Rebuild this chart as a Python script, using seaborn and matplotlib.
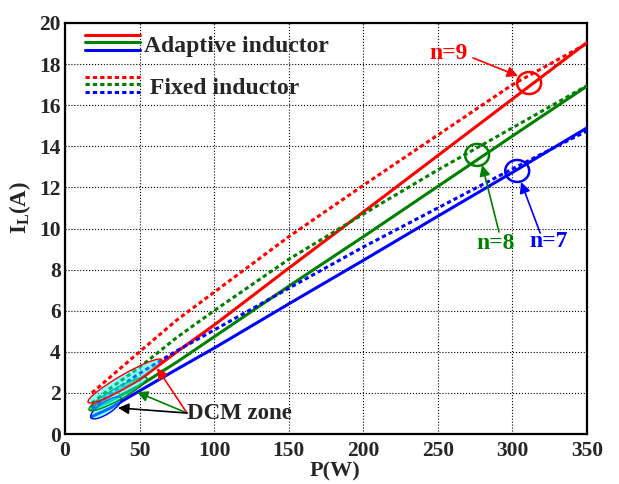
import numpy as np
import pandas as pd
import matplotlib
matplotlib.use("Agg")
import matplotlib.pyplot as plt
import matplotlib.transforms as mtransforms
from matplotlib.patches import Ellipse
from matplotlib.lines import Line2D
from matplotlib.legend_handler import HandlerBase
import seaborn as sns

# ---- data -------------------------------------------------------------
power_w = [18, 30, 50, 75, 100, 150, 200, 250, 300, 350]

adaptive_n9 = [1.35, 1.85, 2.65, 4.00, 5.30, 8.07, 10.80, 13.55, 16.30, 19.05]
adaptive_n8 = [1.20, 1.60, 2.35, 3.50, 4.73, 7.19, 9.60, 12.05, 14.50, 16.93]
adaptive_n7 = [0.85, 1.25, 2.10, 3.15, 4.18, 6.33, 8.45, 10.60, 12.73, 14.90]

fixed_n9 = [2.00, 2.75, 4.00, 5.55, 6.90, 9.60, 12.10, 14.55, 17.00, 19.00]
fixed_n8 = [1.50, 2.20, 3.25, 4.70, 6.00, 8.50, 10.70, 12.85, 14.90, 16.95]
fixed_n7 = [1.25, 1.95, 2.95, 4.05, 5.06, 7.09, 9.10, 11.00, 12.90, 14.75]

turns = ["n=9", "n=8", "n=7"]
colors = {"n=9": "#ff0000", "n=8": "#008000", "n=7": "#0000ff"}
legend_labels = ["Adaptive inductor", " Fixed inductor"]

x_ticks = [0, 50, 100, 150, 200, 250, 300, 350]
y_ticks = [0, 2, 4, 6, 8, 10, 12, 14, 16, 18, 20]

rows = []
for kind, series in [("Adaptive", [adaptive_n9, adaptive_n8, adaptive_n7]),
                     ("Fixed", [fixed_n9, fixed_n8, fixed_n7])]:
    for n, vals in zip(turns, series):
        for p, i in zip(power_w, vals):
            rows.append({"P": p, "I": i, "n": n, "kind": kind})
df = pd.DataFrame(rows)

# ---- style ------------------------------------------------------------
sns.set_theme(style="white")
plt.rcParams["font.family"] = ["Liberation Serif", "DejaVu Serif"]
plt.rcParams["font.weight"] = "bold"
plt.rcParams["mathtext.fontset"] = "custom"
plt.rcParams["mathtext.rm"] = "Liberation Serif:bold"
plt.rcParams["mathtext.it"] = "Liberation Serif:bold"
plt.rcParams["mathtext.bf"] = "Liberation Serif:bold"

DPI = 100
fig = plt.figure(figsize=(6.19, 4.84), dpi=DPI)
ax = fig.add_axes([65 / 619, 1 - 434 / 484, 522 / 619, 411 / 484])

sns.lineplot(data=df, x="P", y="I", hue="n", style="kind",
             palette=colors, dashes={"Adaptive": "", "Fixed": (1.4, 1.0)},
             estimator=None, sort=False, linewidth=2.2, legend=False, ax=ax,
             zorder=3)

ax.set_xlim(0, 350)
ax.set_ylim(0, 20)
ax.set_xticks(x_ticks)
ax.set_yticks(y_ticks)
ax.tick_params(axis="both", labelsize=15.5, direction="in", length=4,
               width=1, color="black")
ax.tick_params(axis="x", pad=5)
ax.tick_params(axis="y", pad=3)
for lab in ax.get_xticklabels() + ax.get_yticklabels():
    lab.set_fontweight("bold")
ax.grid(True, color="black", linestyle=":", linewidth=0.8)
ax.set_axisbelow(True)
for sp in ax.spines.values():
    sp.set_color("black")
    sp.set_linewidth(1.6)

ax.set_xlabel("P(W)", fontsize=16, fontweight="bold")
ax.set_ylabel(r"I$_{\mathrm{L}}$(A)", fontsize=16.5, fontweight="bold")
ax.xaxis.set_label_coords(0.517, -0.066)
ax.yaxis.set_label_coords(-0.062, 0.55)


def pixel_patch(x, y, w, h, angle, **kw):
    """Ellipse sized in output pixels, anchored at a data point."""
    tr = mtransforms.Affine2D() + mtransforms.ScaledTranslation(x, y, ax.transData)
    e = Ellipse((0, 0), w, h, angle=angle, transform=tr, **kw)
    ax.add_patch(e)
    return e


# DCM zone ellipses
for (cx, cy, w, h, ang, n) in [(27.5, 1.27, 36, 12, 33, "n=7"),
                               (35.5, 1.95, 66, 12, 29, "n=8"),
                               (40.2, 2.58, 85, 13, 30, "n=9")]:
    pixel_patch(cx, cy, w, h, ang, facecolor=(0, 1, 1, 0.45),
                edgecolor=colors[n], linewidth=1.0, zorder=4)

# markers on the curves
for (cx, cy, n) in [(311.2, 17.08, "n=9"), (276.3, 13.58, "n=8"),
                    (303.2, 12.80, "n=7")]:
    pixel_patch(cx, cy, 24, 22, 0, facecolor="none", edgecolor=colors[n],
                linewidth=1.8, zorder=5)

arrow_kw = dict(arrowstyle="-|>", mutation_scale=16, lw=1.2,
                shrinkA=0, shrinkB=0)

# DCM zone label and arrows
dcm_x, dcm_y = 81.8, 1.02
ax.text(dcm_x, dcm_y, "DCM zone", fontsize=16.5, fontweight="bold",
        ha="left", va="center", zorder=6)
for (hx, hy, c) in [(61.7, 3.21, "#ff0000"), (48.3, 2.04, "#008000"),
                    (35.5, 1.27, "black")]:
    ax.annotate("", xy=(hx, hy), xytext=(dcm_x, dcm_y),
                arrowprops=dict(color=c, **arrow_kw), zorder=6)

# turn-count labels
ax.text(270.3, 18.54, "n=9", color=colors["n=9"], fontsize=17,
        fontweight="bold", ha="right", va="center")
ax.annotate("", xy=(303.8, 17.42), xytext=(273.6, 18.3),
            arrowprops=dict(color=colors["n=9"], **arrow_kw))
ax.text(288.4, 9.29, "n=8", color=colors["n=8"], fontsize=17,
        fontweight="bold", ha="center", va="center")
ax.annotate("", xy=(279.7, 13.09), xytext=(291.0, 9.83),
            arrowprops=dict(color=colors["n=8"], **arrow_kw))
ax.text(324.0, 9.39, "n=7", color=colors["n=7"], fontsize=17,
        fontweight="bold", ha="center", va="center")
ax.annotate("", xy=(305.8, 12.26), xytext=(318.6, 9.78),
            arrowprops=dict(color=colors["n=7"], **arrow_kw))


# legend with three stacked lines per entry
class LineGroup:
    def __init__(self, cols, dashed):
        self.cols = cols
        self.dashed = dashed


class LineGroupHandler(HandlerBase):
    def create_artists(self, legend, orig_handle, xdescent, ydescent,
                       width, height, fontsize, trans):
        artists = []
        yc = (height - ydescent) / 2.0
        for k, c in enumerate(orig_handle.cols):
            y = yc + (1 - k) * 5.4
            ln = Line2D([-xdescent, -xdescent + width], [y, y], color=c,
                        linewidth=2.2,
                        linestyle=(0, (1.4, 1.0)) if orig_handle.dashed else "-")
            ln.set_transform(trans)
            artists.append(ln)
        return artists


group_cols = [colors[n] for n in turns]
handles = [LineGroup(group_cols, False), LineGroup(group_cols, True)]
leg = ax.legend(handles, legend_labels,
                handler_map={LineGroup: LineGroupHandler()},
                loc="upper left", bbox_to_anchor=(85 / 619, 1 - 33 / 484),
                bbox_transform=fig.transFigure, frameon=False,
                prop={"size": 17, "weight": "bold", "family": "Liberation Serif"},
                handlelength=2.35, handleheight=1.0, handletextpad=0.15,
                labelspacing=0.78, borderpad=0, borderaxespad=0)

fig.savefig("out.png", dpi=DPI)
